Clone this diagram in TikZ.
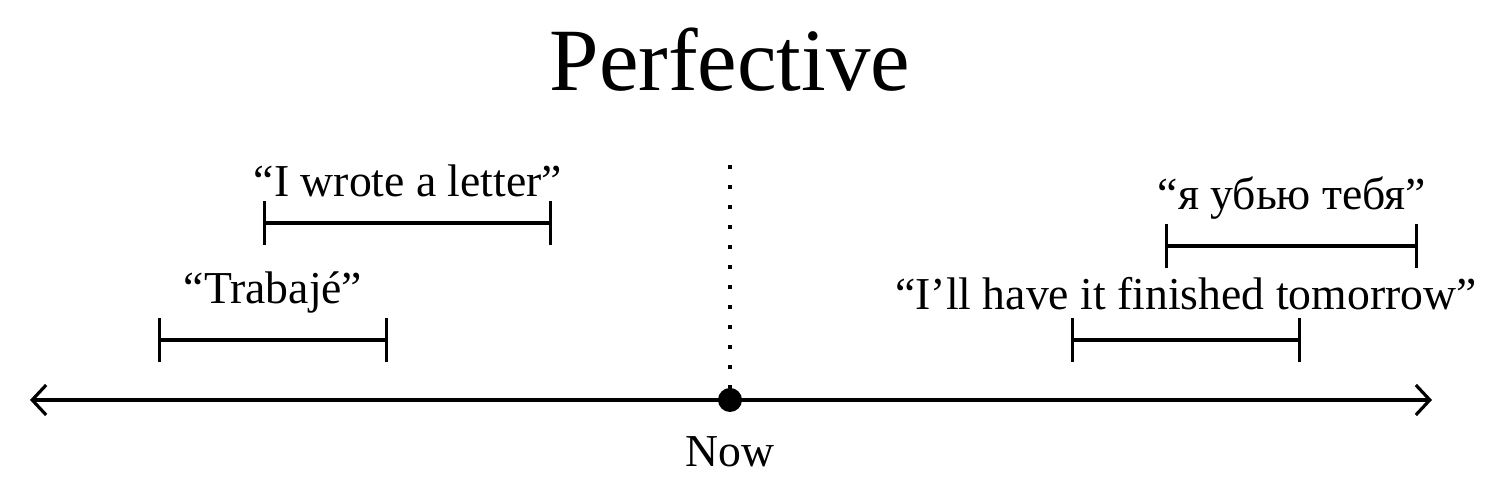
\documentclass[tikz,border=0pt]{standalone}
\usepackage{fontspec}
\setmainfont{Liberation Serif}
\usetikzlibrary{arrows.meta}
\tikzset{
	span/.style={line width=0.9pt, {Bar[width=0.44cm]}-{Bar[width=0.44cm]}},
	phrase/.style={anchor=base, inner sep=0pt, font=\fontsize{13}{16}\selectfont},
}

\begin{document}
\begin{tikzpicture}
		%%%%% START %%%%%
		\useasboundingbox (0, 0) rectangle (15, 4.95);
		
		\node[font=\fontsize{25.3}{30}\selectfont] (title) at (7.3, 4.35) {Perfective};
		
		% time line
		\coordinate (past) at (0.3, 0.95);
		\coordinate (future) at (14.32, 0.95);
		\coordinate (now) at (7.3, 0.95);
		\draw[line width=0.9pt, {Straight Barb[length=0.14cm, width=0.3cm]}-{Straight Barb[length=0.14cm, width=0.3cm]}] (past) -- (future);
		\coordinate (nowtop) at (7.3, 3.3);
		\draw[line width=1.1pt, dash pattern=on 1.1pt off 4.6pt] (nowtop) -- (now);
		\fill (now) circle (0.12);
		\node[font=\fontsize{13}{16}\selectfont] (nowlabel) at (7.3, 0.43) {Now};
		
		% past events
		\coordinate (w1) at (2.63, 2.72);
		\coordinate (w2) at (5.52, 2.72);
		\draw[span] (w1) -- (w2);
		\node[phrase] (wrote) at (4.08, 2.98) {“I wrote a letter”};
		
		\coordinate (t1) at (1.58, 1.55);
		\coordinate (t2) at (3.88, 1.55);
		\draw[span] (t1) -- (t2);
		\node[phrase] (trabaje) at (2.73, 1.91) {“Trabajé”};
		
		% future events
		\coordinate (u1) at (11.65, 2.49);
		\coordinate (u2) at (14.18, 2.49);
		\draw[span] (u1) -- (u2);
		\node[phrase] (ubyu) at (12.92, 2.85) {“я убью тебя”};
		
		\coordinate (f1) at (10.71, 1.55);
		\coordinate (f2) at (13.01, 1.55);
		\draw[span] (f1) -- (f2);
		\node[phrase] (finished) at (11.86, 1.85) {“I’ll have it finished tomorrow”};
		
		%%%%% END %%%%%
	\end{tikzpicture}
\end{document}
